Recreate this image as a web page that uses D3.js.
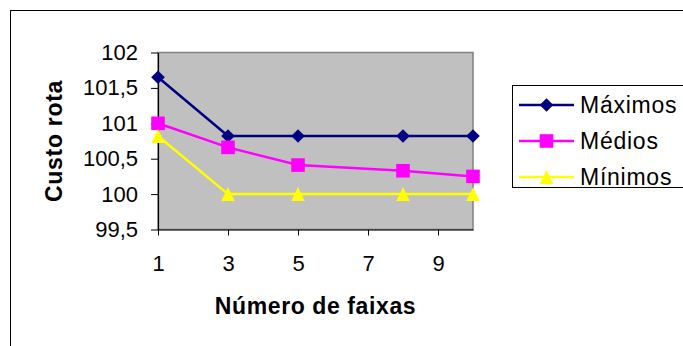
<!DOCTYPE html>
<html>
<head>
<meta charset="utf-8">
<script src="https://cdn.jsdelivr.net/npm/d3@7"></script>
<style>
  html, body { margin: 0; padding: 0; background: #fff; }
  svg { display: block; }
  text { font-family: "Liberation Sans", Arial, sans-serif; fill: #000; }
</style>
</head>
<body>
<svg id="chart" width="683" height="346"></svg>
<script>
// Number of lanes (x) and route cost per series
const faixas = [1, 3, 5, 8, 10];
const maximos = [101.65, 100.82, 100.82, 100.82, 100.82];
const medios  = [101.0, 100.66, 100.41, 100.33, 100.25];
const minimos = [100.82, 100.0, 100.0, 100.0, 100.0];

const seriesNames = ["Máximos", "Médios", "Mínimos"];
const seriesColors = ["#000080", "#FF00FF", "#FFFF00"];
const seriesShapes = ["diamond", "square", "triangle"];

const xTicks = [1, 3, 5, 7, 9];
const yTicks = [99.5, 100, 100.5, 101, 101.5, 102];
const xDomain = [1, 10];
const yDomain = [99.5, 102];

const series = seriesNames.map((name, i) => ({
  name,
  color: seriesColors[i],
  shape: seriesShapes[i],
  values: [maximos, medios, minimos][i].map((v, j) => ({ x: faixas[j], y: v }))
}));

const svg = d3.select("#chart");

// outer chart frame (runs off the right and bottom edges)
svg.append("rect")
  .attr("x", 10.5).attr("y", 10.5)
  .attr("width", 700).attr("height", 360)
  .attr("fill", "#fff").attr("stroke", "#000").attr("stroke-width", 1);

const plot = { left: 158, top: 52.5, right: 473, bottom: 229.5 };

const x = d3.scaleLinear().domain(xDomain).range([plot.left, plot.right]);
const y = d3.scaleLinear().domain(yDomain).range([plot.bottom, plot.top]);

// plot area
svg.append("rect")
  .attr("x", plot.left).attr("y", plot.top)
  .attr("width", plot.right - plot.left).attr("height", plot.bottom - plot.top)
  .attr("fill", "#C0C0C0").attr("stroke", "#808080").attr("stroke-width", 1.5);

const ptBR = d3.formatLocale({ decimal: ",", thousands: ".", grouping: [3], currency: ["R$", ""] });
const yFmt = v => (Number.isInteger(v) ? ptBR.format("d")(v) : ptBR.format(".1f")(v));

// y axis
const yAxis = svg.append("g")
  .attr("transform", `translate(${plot.left},0)`)
  .call(d3.axisLeft(y).tickValues(yTicks).tickFormat(yFmt).tickSize(7).tickPadding(13).tickSizeOuter(0));
yAxis.select(".domain").attr("stroke", "#000").attr("stroke-width", 1.2);
yAxis.selectAll(".tick line").attr("stroke", "#000");
yAxis.selectAll(".tick text")
  .style("font-family", "'Liberation Sans', Arial, sans-serif")
  .style("font-size", "22px").attr("fill", "#000");

// x axis
const xAxis = svg.append("g")
  .attr("transform", `translate(0,${plot.bottom})`)
  .call(d3.axisBottom(x).tickValues(xTicks).tickFormat(d3.format("d")).tickSize(6).tickPadding(20).tickSizeOuter(0));
xAxis.select(".domain").attr("stroke", "#000").attr("stroke-width", 1.2);
xAxis.selectAll(".tick line").attr("stroke", "#000");
xAxis.selectAll(".tick text")
  .style("font-family", "'Liberation Sans', Arial, sans-serif")
  .style("font-size", "22px").attr("fill", "#000");

// axis titles
svg.append("text")
  .attr("x", (plot.left + plot.right) / 2).attr("y", 313.5)
  .attr("text-anchor", "middle")
  .style("font-size", "23px").style("font-weight", "bold")
  .style("letter-spacing", "0.6px")
  .text("Número de faixas");

svg.append("text")
  .attr("transform", `translate(61.5,${(plot.top + plot.bottom) / 2}) rotate(-90)`)
  .attr("text-anchor", "middle")
  .style("font-size", "23px").style("font-weight", "bold")
  .style("letter-spacing", "0.7px")
  .text("Custo rota");

// marker shapes, centred on their point
const markerPath = {
  diamond: "M0,-6.8L6.8,0L0,6.8L-6.8,0Z",
  square: "M-6.8,-6.8H6.8V6.8H-6.8Z",
  triangle: "M0,-7L6.8,7H-6.8Z"
};

// series lines and markers
const line = d3.line().x(d => x(d.x)).y(d => y(d.y));

series.forEach(s => {
  svg.append("path")
    .datum(s.values)
    .attr("d", line)
    .attr("fill", "none")
    .attr("stroke", s.color)
    .attr("stroke-width", 2.5);
});
series.forEach(s => {
  svg.append("g").selectAll("path")
    .data(s.values)
    .join("path")
    .attr("transform", d => `translate(${x(d.x)},${y(d.y)})`)
    .attr("d", markerPath[s.shape])
    .attr("fill", s.color);
});

// legend
const legend = svg.append("g");
legend.append("rect")
  .attr("x", 512.5).attr("y", 85.5)
  .attr("width", 200).attr("height", 102)
  .attr("fill", "#fff").attr("stroke", "#000").attr("stroke-width", 1);

const legendY = d3.scalePoint().domain(seriesNames).range([105, 177]);
series.forEach(s => {
  const ly = legendY(s.name);
  legend.append("line")
    .attr("x1", 519).attr("x2", 574).attr("y1", ly).attr("y2", ly)
    .attr("stroke", s.color).attr("stroke-width", 2.5);
  legend.append("path")
    .attr("transform", `translate(546.5,${ly})`)
    .attr("d", markerPath[s.shape])
    .attr("fill", s.color);
  legend.append("text")
    .attr("x", 580).attr("y", ly).attr("dy", "0.36em")
    .style("font-size", "23px")
    .style("letter-spacing", "0.75px")
    .text(s.name);
});
</script>
</body>
</html>
